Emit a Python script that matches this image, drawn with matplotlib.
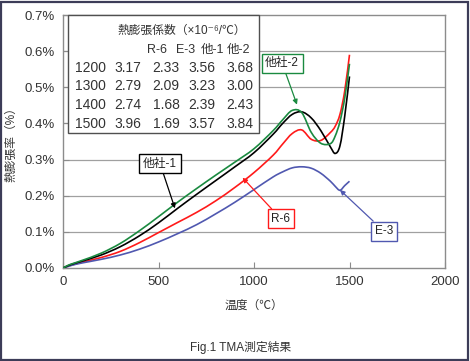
import matplotlib
matplotlib.use("Agg")
import numpy as np
import matplotlib.pyplot as plt
from matplotlib.patches import Rectangle, PathPatch
from matplotlib.path import Path

plt.rcParams['font.family'] = ['Liberation Sans', 'Noto Sans CJK JP', 'DejaVu Sans']

# ---- data ----
temps = [0, 25, 50, 100, 200, 300, 400, 500, 600, 700, 800, 900, 1000, 1100, 1150, 1200, 1250, 1300, 1350, 1400, 1425, 1450, 1475, 1500]
r6    = [0, 0.005, 0.009, 0.016, 0.029, 0.046, 0.070, 0.098, 0.126, 0.154, 0.186, 0.223, 0.264, 0.312, 0.343, 0.372, 0.382, 0.356, 0.353, 0.375, 0.392, 0.425, 0.490, 0.590]
e3    = [0, 0.004, 0.008, 0.014, 0.024, 0.036, 0.052, 0.072, 0.095, 0.120, 0.150, 0.182, 0.217, 0.252, 0.266, 0.277, 0.280, 0.276, 0.262, 0.240, 0.226, 0.215, 0.228, 0.240]
ta1   = [0, 0.006, 0.011, 0.019, 0.036, 0.059, 0.089, 0.125, 0.165, 0.204, 0.242, 0.280, 0.319, 0.370, 0.400, 0.425, 0.432, 0.415, 0.380, 0.335, 0.317, 0.338, 0.420, 0.530]
ta2   = [0, 0.007, 0.012, 0.021, 0.041, 0.068, 0.103, 0.142, 0.182, 0.220, 0.257, 0.293, 0.330, 0.380, 0.410, 0.436, 0.430, 0.375, 0.345, 0.344, 0.365, 0.405, 0.470, 0.565]

series_names = ['R-6', 'E-3', '他社-1', '他社-2']
series_vals = [r6, e3, ta1, ta2]
series_colors = ['#ff1a1a', '#5058b0', '#000000', '#1a8a40']

table_title = '熱膨張係数（×10⁻⁶/℃）'
table_cols = ['R-6', 'E-3', '他-1', '他-2']
table_rows = ['1200', '1300', '1400', '1500']
table_vals = [['3.17', '2.33', '3.56', '3.68'],
              ['2.79', '2.09', '3.23', '3.00'],
              ['2.74', '1.68', '2.39', '2.43'],
              ['3.96', '1.69', '3.57', '3.84']]

xticks = [0, 500, 1000, 1500, 2000]
yticks = [0, 0.1, 0.2, 0.3, 0.4, 0.5, 0.6, 0.7]
ytick_labels = ['0.0%', '0.1%', '0.2%', '0.3%', '0.4%', '0.5%', '0.6%', '0.7%']


def smooth_path(xs, ys):
    """Catmull-Rom spline through the data points as cubic Bezier segments."""
    x = np.asarray(xs, float)
    y = np.asarray(ys, float)
    verts = [(x[0], y[0])]
    codes = [Path.MOVETO]
    n = len(x)
    for i in range(n - 1):
        i0 = max(i - 1, 0)
        i3 = min(i + 2, n - 1)
        c1 = (x[i] + (x[i + 1] - x[i0]) / 6, y[i] + (y[i + 1] - y[i0]) / 6)
        c2 = (x[i + 1] - (x[i3] - x[i]) / 6, y[i + 1] - (y[i3] - y[i]) / 6)
        verts += [c1, c2, (x[i + 1], y[i + 1])]
        codes += [Path.CURVE4] * 3
    return Path(verts, codes)


# ---- figure ----
W, H = 470, 361
fig = plt.figure(figsize=(W / 100, H / 100), dpi=100)
fig.patch.set_facecolor('white')
fig.patches.append(Rectangle((1 / W, 1 / H), 1 - 3 / W, 1 - 3 / H, transform=fig.transFigure,
                             fill=False, edgecolor='#3c3c58', linewidth=1.6))

ax = fig.add_axes([63 / W, 1 - 268 / H, (445 - 63) / W, (268 - 15) / H])
ax.set_xlim(0, 2000)
ax.set_ylim(0, 0.7)
for sp in ax.spines.values():
    sp.set_color('#8c8c8c')
    sp.set_linewidth(1.0)
ax.set_yticks(yticks)
ax.set_yticklabels(ytick_labels)
ax.set_xticks(xticks)
ax.tick_params(direction='in', length=4, color='#8c8c8c', labelsize=9.5, labelcolor='#333333', pad=6)
ax.tick_params(axis='y', pad=6)
for y in yticks[1:-1]:
    ax.axhline(y, color='#a0a0a0', linewidth=0.9, zorder=0)

for vals, c in zip(series_vals, series_colors):
    ax.add_patch(PathPatch(smooth_path(temps, vals), fill=False, edgecolor=c, linewidth=1.2, zorder=3))

ax.set_xlabel('温度（℃）', fontsize=8.5, color='#333333', labelpad=8)
ax.set_ylabel('熱膨張率（%）', fontsize=8.5, color='#333333', labelpad=5)

# ---- annotations ----
ann = [
    ('他社-2', 1147, 0.567, 1225, 0.452, series_colors[3]),
    ('他社-1', 508, 0.289, 586, 0.165, series_colors[2]),
    ('R-6', 1141, 0.136, 940, 0.250, series_colors[0]),
    ('E-3', 1680, 0.102, 1450, 0.216, series_colors[1]),
]
for txt, tx, ty, ax_, ay, c in ann:
    ax.annotate(txt, xy=(ax_, ay), xytext=(tx, ty), fontsize=8.5, color='#222222',
                ha='center', va='center', zorder=6,
                bbox=dict(boxstyle='square,pad=0.3', fc='white', ec=c, lw=1.0),
                arrowprops=dict(arrowstyle='-|>', color=c, lw=0.9, mutation_scale=7,
                                shrinkA=0, shrinkB=0))


# ---- table box ----
def fx(px):
    return px / W


def fy(py):
    return 1 - py / H


fig.patches.append(Rectangle((fx(68), fy(133)), fx(259) - fx(68), fy(15) - fy(133),
                             transform=fig.transFigure, fill=True, facecolor='white',
                             edgecolor='#505050', linewidth=1.0, zorder=5))
tk = dict(fontsize=10, color='#333333', ha='center', va='center', transform=fig.transFigure, zorder=7)
fig.text(fx(182), fy(31), table_title, **dict(tk, fontsize=8.5))
for cx, lab in zip([157, 186, 213, 239], table_cols):
    fig.text(fx(cx), fy(50), lab, **dict(tk, fontsize=9))
row_y = [68, 86, 105, 124]
col_x = [128, 166, 202, 240]
for ry, rl, rv in zip(row_y, table_rows, table_vals):
    fig.text(fx(90), fy(ry), rl, **tk)
    for cx, v in zip(col_x, rv):
        fig.text(fx(cx), fy(ry), v, **tk)

fig.text(fx(241), fy(348), 'Fig.1 TMA測定結果', fontsize=8.5, color='#333333', ha='center', va='center')

fig.savefig('out.png', dpi=100)
